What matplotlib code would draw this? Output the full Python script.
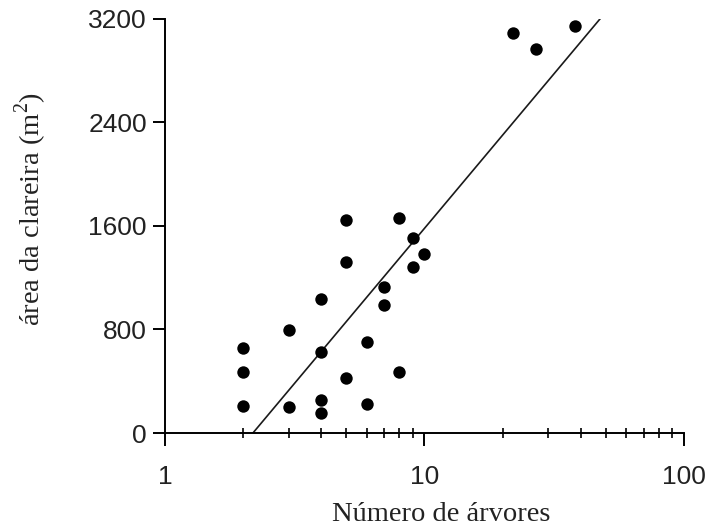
import numpy as np
import matplotlib.pyplot as plt
from matplotlib import ticker

# numero de arvores e area da clareira (m2)
arvores = [2, 2, 2, 3, 3, 4, 4, 4, 4, 5, 5, 5, 6, 6, 7, 7, 8, 8, 9, 9, 10, 22, 27, 38]
area = [209, 471, 657, 201, 796, 255, 155, 628, 1036, 1647, 1322, 425,
        703, 224, 1129, 989, 1662, 471, 1507, 1283, 1384, 3092, 2968, 3146]

# reta ajustada: area = a + b*log10(n)
a_fit = -811
b_fit = 2393
x_fit = [2.18, 47.5]

plt.rcParams['font.family'] = 'Liberation Sans'
plt.rcParams['mathtext.fontset'] = 'custom'
plt.rcParams['mathtext.rm'] = 'Liberation Serif'

fig = plt.figure(figsize=(7.13, 5.26), dpi=100)
ax = fig.add_axes([0.2314, 0.1768, 0.7279, 0.7871])

ax.scatter(arvores, area, s=80, color='black', zorder=3, linewidths=0)
xf = np.array(x_fit)
ax.plot(xf, a_fit + b_fit * np.log10(xf), color='#1a1a1a', lw=1.2)

ax.set_xscale('log')
ax.set_xlim(1, 100)
ax.set_ylim(0, 3200)
ax.set_yticks([0, 800, 1600, 2400, 3200])
ax.xaxis.set_major_formatter(ticker.FuncFormatter(lambda v, p: f'{v:g}'))
ax.xaxis.set_minor_locator(ticker.LogLocator(base=10, subs=np.arange(2, 10)))
ax.xaxis.set_minor_formatter(ticker.NullFormatter())

for s in ['top', 'right']:
    ax.spines[s].set_visible(False)
for s in ['left', 'bottom']:
    ax.spines[s].set_linewidth(1.4)

ax.tick_params(axis='y', which='major', direction='out', length=9, width=1.4,
               labelsize=19, pad=4, labelcolor='#222222')
ax.tick_params(axis='x', which='major', direction='out', length=9, width=1.4,
               labelsize=19, pad=14, labelcolor='#222222')
ax.tick_params(axis='x', which='minor', direction='inout', length=7, width=1.2)

ax.set_xlabel('Número de árvores', family='Liberation Serif', fontsize=20.5,
              color='#222222')
ax.set_ylabel('área da clareira (m$^2$)', family='Liberation Serif', fontsize=20.5,
              color='#222222')
ax.xaxis.label.set_va('center')
ax.yaxis.label.set_va('center')
ax.xaxis.set_label_coords(0.532, -0.198)
ax.yaxis.set_label_coords(-0.258, 0.541)

fig.savefig('out.png', dpi=100)
